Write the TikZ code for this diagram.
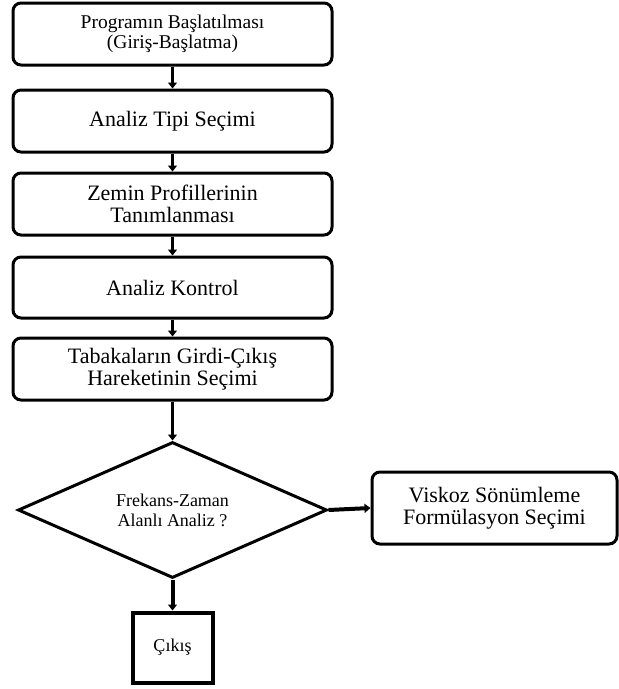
\documentclass[tikz,border=0pt]{standalone}
\usepackage{fontspec}
\setmainfont{Liberation Serif}
\usetikzlibrary{shapes.geometric,arrows.meta}
\begin{document}
\begin{tikzpicture}[x=1pt,y=-1pt,
  stepbox/.style={draw,line width=3pt,rounded corners=8pt,minimum width=319pt,minimum height=62pt,inner sep=0pt,align=center,font=\fontsize{22}{22}\selectfont},
  arr/.style={line width=3.2pt,-{Triangle[width=9pt,length=6pt]}}]
\useasboundingbox[fill=white] (0,0) rectangle (619,689);
\node[stepbox,font=\fontsize{19.5}{19.5}\selectfont] (b1) at (172.5,34) {Programın Başlatılması\\(Giriş-Başlatma)};
\node[stepbox] (b2) at (172.5,121) {Analiz Tipi Seçimi};
\node[stepbox] (b3) at (172.5,204) {Zemin Profillerinin\\Tanımlanması};
\node[stepbox,minimum height=61pt] (b4) at (172.5,287.5) {Analiz Kontrol};
\node[stepbox] (b5) at (172.5,369) {Tabakaların Girdi-Çıkış\\Hareketinin Seçimi};
\node[draw,diamond,shape aspect=2.27,line width=3pt,minimum width=309pt,minimum height=136pt,inner sep=0pt,align=center,font=\fontsize{18}{20}\selectfont] (d) at (172.5,510) {Frekans-Zaman\\Alanlı Analiz ?};
\node[stepbox,minimum width=245pt,minimum height=72pt] (v) at (494.5,508) {Viskoz Sönümleme\\Formülasyon Seçimi};
\node[draw,line width=4pt,minimum width=80pt,minimum height=70pt,inner sep=0pt,font=\fontsize{18}{18}\selectfont] (c) at (172.5,647.5) {Çıkış};
\draw[arr] (b1.south) -- (b2.north);
\draw[arr] (b2.south) -- (b3.north);
\draw[arr] (b3.south) -- (b4.north);
\draw[arr] (b4.south) -- (b5.north);
\draw[arr] (b5.south) -- (d.north);
\draw[arr,line width=4pt] (d.east) -- (v.west);
\draw[arr,line width=4pt] (d.south) -- (c.north);
\end{tikzpicture}
\end{document}
